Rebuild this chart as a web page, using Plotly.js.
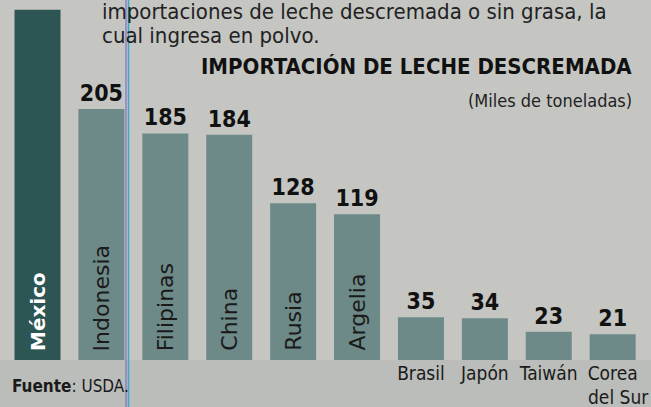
<!DOCTYPE html>
<html>
<head>
<meta charset="utf-8">
<script src="https://cdn.plot.ly/plotly-3.0.1.min.js"></script>
<style>html,body{margin:0;padding:0;background:#c5c6c2;}#chart{width:651px;height:407px;}</style>
</head>
<body>
<div id="chart"></div>
<script>
// Data (miles de toneladas)
var countries = ["México", "Indonesia", "Filipinas", "China", "Rusia", "Argelia", "Brasil", "Japón", "Taiwán", "Corea del Sur"];
var values = [286, 205, 185, 184, 128, 119, 35, 34, 23, 21];
// value label of México is cut off in the reference
var valueLabels = ["", "205", "185", "184", "128", "119", "35", "34", "23", "21"];
// names drawn inside the tall bars vs. under the short ones
var insideNames = ["México", "Indonesia", "Filipinas", "China", "Rusia", "Argelia"];
var belowTickText = ["", "", "", "", "", "", "Brasil", "Japón", "Taiwán", "Corea"];

var COND = "'DejaVu Sans Condensed', 'DejaVu Sans', sans-serif";
var WIDE = "'DejaVu Sans', sans-serif";
var H = 360; // plot-area height in px (for placing text in paper coords)
function py(px) { return 1 - px / H; }

var colors = countries.map(function (c, i) { return i === 0 ? "#2d5553" : "#6d8a88"; });

var trace = {
  type: "bar",
  x: countries,
  y: values,
  marker: { color: colors, line: { width: 0 } },
  text: valueLabels,
  textposition: "outside",
  cliponaxis: false,
  textfont: { family: COND, size: 23, color: "#111", weight: 700 },
  hoverinfo: "skip"
};

var annotations = [];
insideNames.forEach(function (name, i) {
  annotations.push({
    x: name, y: 0, xref: "x", yref: "y",
    text: i === 0 ? "<b>" + name + "</b>" : name, showarrow: false, textangle: -90,
    xanchor: "center", yanchor: "bottom", yshift: 7,
    font: { family: WIDE, size: i === 0 ? 20 : 22, color: i === 0 ? "#ffffff" : "#1a1a1a" }
  });
});
annotations.push(
  { x: "Corea del Sur", y: 0, xref: "x", yref: "y", yanchor: "top", xanchor: "right",
    yshift: -24, xshift: 38, showarrow: false, text: "del Sur",
    font: { family: COND, size: 19, color: "#1a1a1a" } },
  { xref: "paper", yref: "paper", x: 100 / 651, y: py(11), xanchor: "left", yanchor: "middle", showarrow: false,
    text: "importaciones de leche descremada o sin grasa, la", font: { family: COND, size: 22, color: "#222" } },
  { xref: "paper", yref: "paper", x: 100 / 651, y: py(36), xanchor: "left", yanchor: "middle", showarrow: false,
    text: "cual ingresa en polvo.", font: { family: COND, size: 22, color: "#222" } },
  { xref: "paper", yref: "paper", x: 634 / 651, y: py(66), xanchor: "right", yanchor: "middle", showarrow: false,
    text: "<b>IMPORTACIÓN DE LECHE DESCREMADA</b>", font: { family: COND, size: 22, color: "#111" } },
  { xref: "paper", yref: "paper", x: 634 / 651, y: py(100), xanchor: "right", yanchor: "middle", showarrow: false,
    text: "(Miles de toneladas)", font: { family: COND, size: 18, color: "#222" } },
  { xref: "paper", yref: "paper", x: 10 / 651, y: py(386), xanchor: "left", yanchor: "middle", showarrow: false,
    text: "<b>Fuente</b>: USDA.", font: { family: COND, size: 17, color: "#1a1a1a" } }
);

var layout = {
  width: 651, height: 407,
  margin: { l: 0, r: 0, t: 0, b: 47, pad: 0 },
  paper_bgcolor: "#c5c6c2",
  plot_bgcolor: "rgba(0,0,0,0)",
  bargap: 0.28,
  showlegend: false,
  font: { family: COND },
  xaxis: {
    type: "category",
    range: [-0.587, 9.6],
    tickvals: countries,
    ticktext: belowTickText,
    ticks: "", showline: false, showgrid: false, zeroline: false,
    tickfont: { family: COND, size: 19, color: "#1a1a1a" },
    fixedrange: true
  },
  yaxis: {
    range: [0, 294],
    visible: false, showgrid: false, zeroline: false, fixedrange: true
  },
  shapes: [
    { type: "rect", xref: "paper", yref: "paper", x0: 0, x1: 1, y0: py(407), y1: 0,
      fillcolor: "#babdb9", line: { width: 0 }, layer: "below" },
    { type: "line", xref: "paper", yref: "paper", x0: 126 / 651, x1: 126 / 651, y0: py(407), y1: 1,
      line: { color: "#8a7fc8", width: 1.5 }, layer: "above" },
    { type: "line", xref: "paper", yref: "paper", x0: 128.5 / 651, x1: 128.5 / 651, y0: py(407), y1: 1,
      line: { color: "#3aa9c8", width: 1.5 }, layer: "above" }
  ],
  annotations: annotations
};

Plotly.newPlot("chart", [trace], layout, { displayModeBar: false, staticPlot: true });
</script>
</body>
</html>
